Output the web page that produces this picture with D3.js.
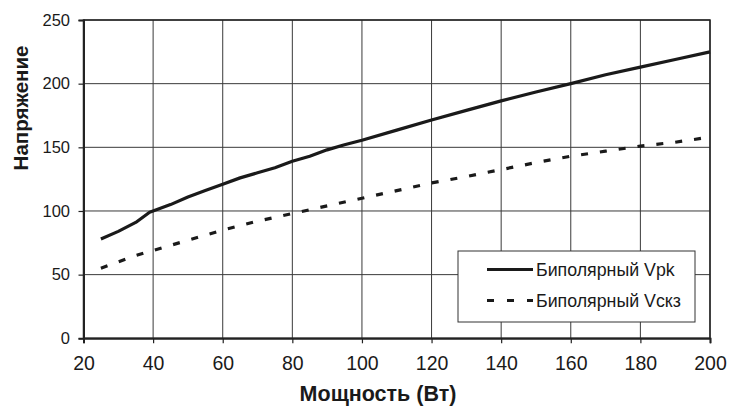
<!DOCTYPE html>
<html>
<head>
<meta charset="utf-8">
<script src="https://cdn.jsdelivr.net/npm/d3@7/dist/d3.min.js"></script>
<style>
  html, body { margin: 0; padding: 0; background: #fff; }
  svg { display: block; }
  text { font-family: "Liberation Sans", Arial, sans-serif; fill: #1a1a1a; }
</style>
</head>
<body>
<svg id="chart" width="729" height="407"></svg>
<script>
// ---- data ----
const powerVpk = [25, 30, 35, 39, 45, 50, 55, 60, 65, 70, 75, 80, 85, 90, 95, 100, 110, 120, 130, 140, 150, 160, 170, 180, 190, 200];
const voltVpk  = [78, 84, 91, 99, 105, 111, 116, 121, 126, 130, 134, 139, 143, 148, 152, 155.5, 163.5, 171.5, 179, 186.5, 193.5, 200, 207, 213, 219, 225];
const powerVckz = [25, 30, 35, 40, 50, 60, 70, 80, 90, 100, 110, 120, 130, 140, 150, 160, 170, 180, 190, 200];
const voltVckz  = [55, 60, 65, 69, 77, 85, 92, 98, 104, 110, 116, 122, 127, 132.5, 138, 143, 147, 151, 154, 158];
const xTicks = [20, 40, 60, 80, 100, 120, 140, 160, 180, 200];
const yTicks = [0, 50, 100, 150, 200, 250];
const seriesNames = ["Биполярный Vpk", "Биполярный Vcкз"];
const xTitle = "Мощность (Вт)";
const yTitle = "Напряжение";

// ---- layout ----
const svg = d3.select("#chart");
const L = 83.5, R = 710, T = 20, B = 338.3;
const x = d3.scaleLinear().domain([20, 200]).range([L, R]);
const y = d3.scaleLinear().domain([0, 250]).range([B, T]);

// gridlines
const grid = svg.append("g");
grid.selectAll("line.h").data(yTicks).join("line")
  .attr("x1", L).attr("x2", R)
  .attr("y1", d => y(d)).attr("y2", d => y(d))
  .attr("stroke", "#3a3a3a").attr("stroke-width", 1);
grid.selectAll("line.v").data(xTicks).join("line")
  .attr("y1", T).attr("y2", B)
  .attr("x1", d => x(d)).attr("x2", d => x(d))
  .attr("stroke", "#3a3a3a").attr("stroke-width", 1);

// frame
svg.append("rect").attr("x", L).attr("y", T).attr("width", R - L).attr("height", B - T)
  .attr("fill", "none").attr("stroke", "#222").attr("stroke-width", 1.5);

// axes
const xAxis = d3.axisBottom(x).tickValues(xTicks).tickSize(5).tickPadding(13).tickFormat(d3.format("d"));
const gx = svg.append("g").attr("transform", `translate(0,${B})`).call(xAxis);
gx.select(".domain").attr("stroke", "#222").attr("stroke-width", 2);
gx.selectAll(".tick line").attr("stroke", "#222").attr("stroke-width", 1.2);
gx.selectAll(".tick text").attr("font-size", 19.5).attr("fill", "#1a1a1a")
  .attr("font-family", '"Liberation Sans", Arial, sans-serif');

const yAxis = d3.axisLeft(y).tickValues(yTicks).tickSize(5).tickPadding(8.5).tickFormat(d3.format("d"));
const gy = svg.append("g").attr("transform", `translate(${L},0)`).call(yAxis);
gy.select(".domain").attr("stroke", "#222").attr("stroke-width", 2);
gy.selectAll(".tick line").attr("stroke", "#222").attr("stroke-width", 1.2);
gy.selectAll(".tick text").attr("font-size", 16.5).attr("fill", "#1a1a1a")
  .attr("font-family", '"Liberation Sans", Arial, sans-serif');

// lines
const line = d3.line().x(d => x(d[0])).y(d => y(d[1]));
svg.append("path").datum(d3.zip(powerVpk, voltVpk))
  .attr("d", line).attr("fill", "none").attr("stroke", "#1a1a1a").attr("stroke-width", 3.2)
  .attr("stroke-linejoin", "round");
svg.append("path").datum(d3.zip(powerVckz, voltVckz))
  .attr("d", line).attr("fill", "none").attr("stroke", "#1a1a1a").attr("stroke-width", 3.2)
  .attr("stroke-dasharray", "7,12");

// legend
const lg = svg.append("g");
lg.append("rect").attr("x", 458).attr("y", 251).attr("width", 237).attr("height", 71)
  .attr("fill", "#fff").attr("stroke", "#333").attr("stroke-width", 1);
const legendRows = [{name: seriesNames[0], dash: null, yy: 269.5}, {name: seriesNames[1], dash: "7,13", yy: 300.5}];
legendRows.forEach(r => {
  lg.append("line").attr("x1", 487).attr("x2", 533).attr("y1", r.yy).attr("y2", r.yy)
    .attr("stroke", "#1a1a1a").attr("stroke-width", 3)
    .attr("stroke-dasharray", r.dash);
  lg.append("text").attr("x", 536).attr("y", r.yy).attr("dy", "0.36em")
    .attr("font-size", 17.8).text(r.name);
});

// titles
svg.append("text").attr("x", 378).attr("y", 401)
  .attr("text-anchor", "middle").attr("font-size", 21.5).attr("font-weight", "bold").text(xTitle);
svg.append("text").attr("transform", "translate(28,108) rotate(-90)")
  .attr("text-anchor", "middle").attr("font-size", 20.5).attr("font-weight", "bold").text(yTitle);
</script>
</body>
</html>
